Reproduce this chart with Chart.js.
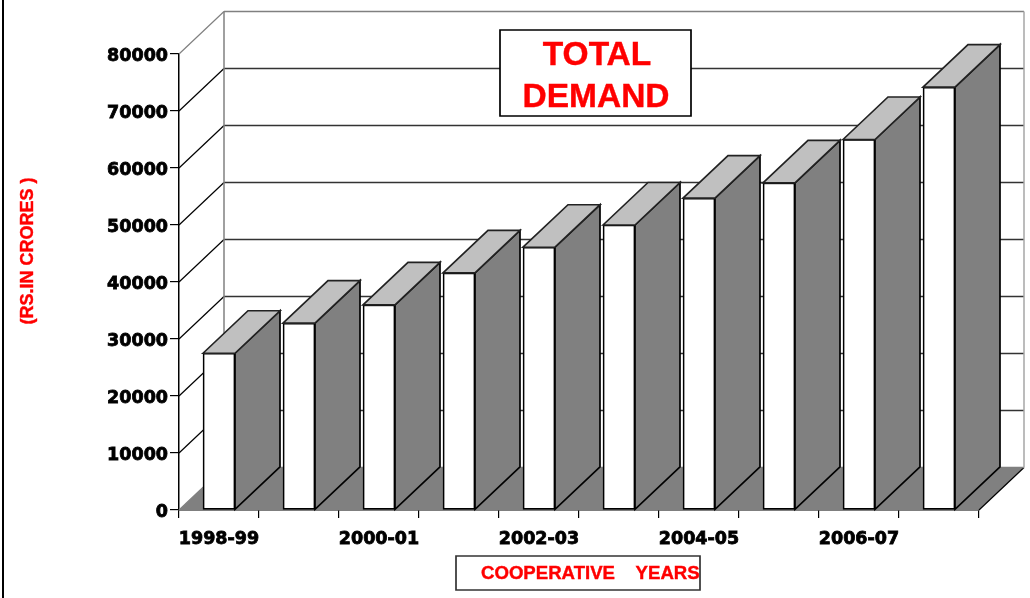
<!DOCTYPE html>
<html>
<head>
<meta charset="utf-8">
<title>Total demand</title>
<script src="https://cdn.jsdelivr.net/npm/chart.js@4"></script>
<style>
  body { margin: 0; background: #fff; }
  canvas { display: block; }
</style>
</head>
<body>
<canvas id="demand" width="1030" height="598"></canvas>
<script>
const categories = ["1998-99", "1999-00", "2000-01", "2001-02", "2002-03", "2003-04", "2004-05", "2005-06", "2006-07", "2007-08"];
const totalDemand = [27500, 32800, 36000, 41600, 46100, 50000, 54700, 57400, 65000, 74200];
const yTicks = [0, 10000, 20000, 30000, 40000, 50000, 60000, 70000, 80000];
const chartTitle = ["TOTAL", "DEMAND"];
const xTitle = "COOPERATIVE    YEARS";
const yTitle = "(RS.IN CRORES )";

// the 3d look: how far the back of the box sits from the front
const depthX = 45;
const depthY = -42.5;

function poly(ctx, pts, fill, stroke, lw) {
    ctx.beginPath();
    pts.forEach((p, i) => i ? ctx.lineTo(p[0], p[1]) : ctx.moveTo(p[0], p[1]));
    ctx.closePath();
    if (fill) { ctx.fillStyle = fill; ctx.fill(); }
    if (stroke) { ctx.strokeStyle = stroke; ctx.lineWidth = lw; ctx.stroke(); }
}

function line(ctx, x1, y1, x2, y2, color, lw) {
    ctx.beginPath();
    ctx.moveTo(x1, y1);
    ctx.lineTo(x2, y2);
    ctx.strokeStyle = color;
    ctx.lineWidth = lw;
    ctx.stroke();
}

// red titles are a bit heavier than plain bold
function heavyText(ctx, text, x, y) {
    ctx.strokeStyle = '#ff0000';
    ctx.lineWidth = 0.4;
    ctx.fillStyle = '#ff0000';
    ctx.fillText(text, x, y);
    ctx.strokeText(text, x, y);
}

const box3d = {
    id: 'box3d',
    beforeDatasetsDraw(chart) {
        const ctx = chart.ctx;
        const { left, right, bottom } = chart.chartArea;
        const y = chart.scales.y;
        ctx.save();
        // floor
        poly(ctx, [[left, bottom], [right, bottom], [right + depthX, bottom + depthY], [left + depthX, bottom + depthY]], '#808080');
        line(ctx, right, bottom, right + depthX, bottom + depthY, '#000', 1.2);
        // back wall and left wall lines
        yTicks.forEach(v => {
            const py = y.getPixelForValue(v);
            const light = v === 80000 || v === 0;
            line(ctx, left, py, left + depthX, py + depthY, light ? '#808080' : '#000', 1.2);
            line(ctx, left + depthX, py + depthY, right + depthX, py + depthY, light ? '#808080' : '#333', 1.5);
        });
        const top = y.getPixelForValue(80000) + depthY;
        line(ctx, left + depthX, top, left + depthX, bottom + depthY, '#808080', 1.5);
        line(ctx, right + depthX, top, right + depthX, bottom + depthY, '#a6a6a6', 1.5);
        ctx.restore();
    },
    afterDatasetsDraw(chart) {
        const ctx = chart.ctx;
        ctx.save();
        chart.getDatasetMeta(0).data.forEach(bar => {
            const l = bar.x - bar.width / 2;
            const r = bar.x + bar.width / 2;
            // side face
            poly(ctx, [[r, bar.y], [r + depthX, bar.y + depthY], [r + depthX, bar.base + depthY], [r, bar.base]], '#808080', '#000', 1.7);
            // top face
            poly(ctx, [[l, bar.y], [l + depthX, bar.y + depthY], [r + depthX, bar.y + depthY], [r, bar.y]], '#c0c0c0', '#222', 1.7);
        });
        ctx.restore();
    },
    afterDraw(chart) {
        const ctx = chart.ctx;
        ctx.save();
        // page frame on the left
        line(ctx, 3, 0, 3, 598, '#000', 2);
        // title box
        poly(ctx, [[500, 30], [691, 30], [691, 116], [500, 116]], '#fff', '#000', 1.7);
        ctx.textAlign = 'center';
        ctx.textBaseline = 'middle';
        ctx.font = 'bold 33.5px "Liberation Sans"';
        heavyText(ctx, chartTitle[0], 597, 56);
        heavyText(ctx, chartTitle[1], 596, 98);
        // x title box, the text runs up to its right edge
        poly(ctx, [[456, 556], [700, 556], [700, 590], [456, 590]], '#fff', '#333', 1.7);
        ctx.textAlign = 'left';
        ctx.font = 'bold 18.6px "Liberation Sans"';
        heavyText(ctx, xTitle, 481, 574);
        // y title
        ctx.font = 'bold 18px "Liberation Sans"';
        ctx.translate(28, 251);
        ctx.rotate(-Math.PI / 2);
        ctx.textAlign = 'center';
        heavyText(ctx, yTitle, 0, 0);
        ctx.restore();
    }
};

const tickFont = { family: '"DejaVu Sans"', size: 17.5, weight: 'bold' };

new Chart(document.getElementById('demand'), {
    type: 'bar',
    data: {
        labels: categories,
        datasets: [{
            label: 'Total demand',
            data: totalDemand,
            backgroundColor: '#fff',
            borderColor: '#000',
            borderWidth: 1.7,
            borderSkipped: false,
            barThickness: 32
        }]
    },
    options: {
        responsive: false,
        animation: false,
        layout: { padding: { top: 54, right: 51, left: 0, bottom: 0 } },
        plugins: { legend: { display: false }, tooltip: { enabled: false } },
        scales: {
            x: {
                grid: { drawOnChartArea: false, offset: true, color: '#000', tickLength: 8, lineWidth: 1.2 },
                border: { color: '#000', width: 1.5 },
                afterFit(scale) { scale.height = 88; },
                ticks: {
                    color: '#000',
                    font: tickFont,
                    textStrokeColor: '#000',
                    textStrokeWidth: 0.8,
                    padding: 11,
                    autoSkip: false,
                    minRotation: 0,
                    maxRotation: 0,
                    callback(value, i) { return i % 2 ? '' : categories[i]; }
                }
            },
            y: {
                min: 0,
                max: 80000,
                grid: { drawOnChartArea: false, color: '#000', tickLength: 9, lineWidth: 1.2 },
                border: { color: '#000', width: 1.5 },
                afterFit(scale) { scale.width = 179; },
                afterBuildTicks(scale) { scale.ticks = yTicks.map(v => ({ value: v })); },
                ticks: {
                    color: '#000',
                    font: tickFont,
                    textStrokeColor: '#000',
                    textStrokeWidth: 0.8,
                    padding: 2,
                    labelOffset: 2,
                    callback: v => String(v)
                }
            }
        }
    },
    plugins: [box3d]
});
</script>
</body>
</html>
